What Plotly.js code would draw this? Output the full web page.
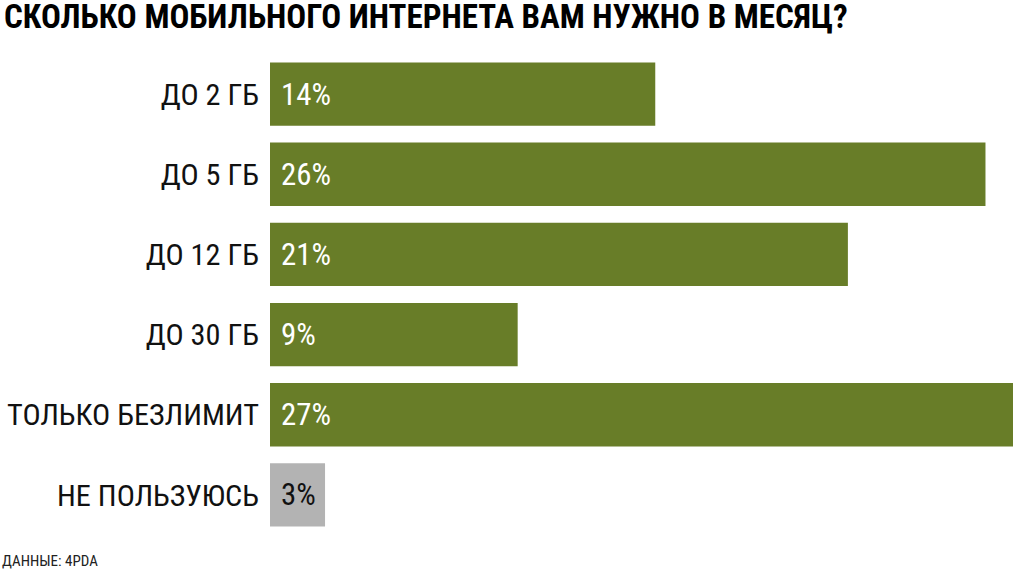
<!DOCTYPE html>
<html>
<head>
<meta charset="utf-8">
<script src="https://cdn.plot.ly/plotly-3.0.1.min.js"></script>
<style>
html,body{margin:0;padding:0;background:#fff;}
#chart{width:1020px;height:572px;}
</style>
</head>
<body>
<div id="chart"></div>
<script>
var categories = ["ДО 2 ГБ", "ДО 5 ГБ", "ДО 12 ГБ", "ДО 30 ГБ", "ТОЛЬКО БЕЗЛИМИТ", "НЕ ПОЛЬЗУЮСЬ"];
var values = [14, 26, 21, 9, 27, 2];
var valueLabels = ["14%", "26%", "21%", "9%", "27%", "3%"];
var barColors = ["#687d28", "#687d28", "#687d28", "#687d28", "#687d28", "#b3b3b3"];
var labelColors = ["#ffffff", "#ffffff", "#ffffff", "#ffffff", "#ffffff", "#111111"];
var titleText = "СКОЛЬКО МОБИЛЬНОГО ИНТЕРНЕТА ВАМ НУЖНО В МЕСЯЦ?";
var sourceText = "ДАННЫЕ: 4PDA";

// pick an installed condensed font
var cnv = document.createElement("canvas").getContext("2d");
function w(txt, font) { cnv.font = font; return cnv.measureText(txt).width; }
var candidates = ["Roboto Condensed", "Liberation Sans Narrow", "Arial Narrow", "Open Sans Condensed", "DejaVu Sans Condensed"];
var probe = "ТОЛЬКО БЕЗЛИМИТ mmmWWWiii";
var chosen = "DejaVu Sans Condensed";
for (var k = 0; k < candidates.length; k++) {
  var a = w(probe, "40px '" + candidates[k] + "', monospace");
  var b = w(probe, "40px monospace");
  var c = w(probe, "40px '" + candidates[k] + "', serif");
  var d = w(probe, "40px serif");
  if (Math.abs(a - b) > 0.5 || Math.abs(c - d) > 0.5) { chosen = candidates[k]; break; }
}
var FONT = "'" + chosen + "', 'DejaVu Sans Condensed', sans-serif";
function fit(txt, target, maxSize, bold) {
  var ww = w(txt, (bold ? "bold " : "") + "100px " + FONT);
  return Math.min(maxSize, 100 * target / ww);
}
var labelSize = fit("ТОЛЬКО БЕЗЛИМИТ", 252, 34, false);
var titleSize = fit(titleText, 856, 33, true);
var valueSize = fit("14%", 50, 31, false);
var sourceSize = fit(sourceText, 98, 15, false);

var trace = {
  type: "bar",
  orientation: "h",
  y: categories,
  x: values,
  marker: {color: barColors, line: {width: 0}},
  hoverinfo: "none"
};

var annotations = categories.map(function (c, i) {
  return {
    x: 0, y: c, xref: "x", yref: "y",
    text: valueLabels[i], showarrow: false,
    xanchor: "left", yanchor: "middle", xshift: 9,
    font: {family: FONT, size: valueSize, color: labelColors[i]}
  };
});

annotations.push({
  x: 0, y: 0, xref: "paper", yref: "paper",
  xanchor: "left", yanchor: "bottom", xshift: -270, yshift: -37,
  text: sourceText, showarrow: false,
  font: {family: FONT, size: sourceSize, color: "#222"}
});

var layout = {
  width: 1020, height: 572,
  margin: {l: 270, r: 7, t: 54, b: 37},
  paper_bgcolor: "#ffffff", plot_bgcolor: "#ffffff",
  showlegend: false,
  bargap: 0.21,
  title: {
    text: "<b>" + titleText + "</b>",
    x: 0, xref: "paper", xanchor: "left", y: 0.991, yanchor: "top",
    font: {family: FONT, size: titleSize, color: "#000"},
    pad: {l: -266}
  },
  xaxis: {range: [0, 27], showgrid: false, zeroline: false, showticklabels: false, showline: false, ticks: "", fixedrange: true},
  yaxis: {autorange: "reversed", showgrid: false, zeroline: false, showline: false, ticks: "outside", ticklen: 4, tickcolor: "rgba(0,0,0,0)",
          tickfont: {family: FONT, size: labelSize, color: "#111"}, fixedrange: true},
  annotations: annotations
};

Plotly.newPlot("chart", [trace], layout, {displayModeBar: false, staticPlot: true});
</script>
</body>
</html>
